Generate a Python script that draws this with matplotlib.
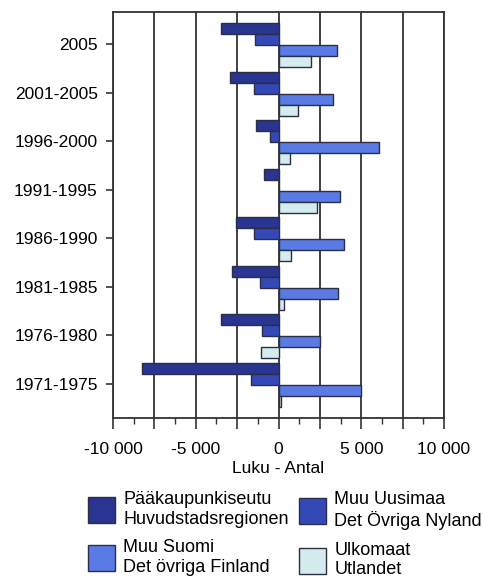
import matplotlib
matplotlib.use("Agg")
import matplotlib.pyplot as plt
import numpy as np
from matplotlib.ticker import FixedLocator

plt.rcParams['font.family'] = ['Liberation Sans', 'DejaVu Sans']

categories = ["2005", "2001-2005", "1996-2000", "1991-1995",
              "1986-1990", "1981-1985", "1976-1980", "1971-1975"]
paakaupunkiseutu = [-3500, -2920, -1350, -850, -2540, -2800, -3460, -8240]
muu_uusimaa = [-1430, -1510, -540, 0, -1470, -1090, -1000, -1690]
muu_suomi = [3530, 3290, 6060, 3710, 3950, 3570, 2500, 4960]
ulkomaat = [1980, 1170, 710, 2300, 730, 330, -1060, 140]

series = [paakaupunkiseutu, muu_uusimaa, muu_suomi, ulkomaat]
labels = ["Pääkaupunkiseutu\nHuvudstadsregionen",
          "Muu Uusimaa\nDet Övriga Nyland",
          "Muu Suomi\nDet övriga Finland",
          "Ulkomaat\nUtlandet"]
colors = ["#2a3592", "#3448b8", "#5a7ae6", "#d5ecee"]
edge = "#2b2f45"

fig = plt.figure(figsize=(4.83, 5.79), dpi=100)
ax = fig.add_axes([113/483, 1-418/579, (444-113)/483, (418-12)/579])

y = np.arange(len(categories))
h = 0.226
handles = []
for i, (vals, c) in enumerate(zip(series, colors)):
    b = ax.barh(y + (i - 1.5) * h + 0.02, vals, height=h, color=c,
                edgecolor=edge, linewidth=1.0, zorder=3)
    handles.append(b)

ax.set_ylim(7.70, -0.66)
ax.set_xlim(-10000, 10000)
ax.set_yticks(y)
ax.set_yticklabels(categories, fontsize=12.5)
ticks = np.arange(-10000, 10001, 2500)
ax.xaxis.set_major_locator(FixedLocator(ticks))
ax.xaxis.set_minor_locator(FixedLocator(np.arange(-10000, 10001, 1250)))
ax.set_xticklabels(["" if t % 5000 else ("0" if t == 0 else f"{t:,}".replace(",", " ")) for t in ticks],
                   fontsize=12.5)
ax.tick_params(axis='x', which='major', length=8, width=1.2, color="#333333", pad=9)
ax.tick_params(axis='x', which='minor', length=4, width=1.0, color="#333333")
ax.tick_params(axis='y', length=5, width=1.2, color="#333333", pad=6)
ax.grid(axis='x', which='major', color="#333333", linewidth=1.3, zorder=1)
for s in ax.spines.values():
    s.set_color("#333333")
    s.set_linewidth(1.3)
ax.set_xlabel("Luku - Antal", fontsize=12.5, labelpad=3)

leg_kw = dict(loc='upper left', frameon=False, fontsize=13, handlelength=1.5,
              handleheight=1.85, handletextpad=0.45, labelspacing=0.65,
              borderpad=0, borderaxespad=0)
leg1 = fig.legend([handles[0], handles[2]], [labels[0], labels[2]],
                  bbox_to_anchor=(88/483, 1-491/579), **leg_kw)
leg2 = fig.legend([handles[1], handles[3]], [labels[1], labels[3]],
                  bbox_to_anchor=(299/483, 1-491/579), **leg_kw)

fig.savefig("out.png", dpi=100)
